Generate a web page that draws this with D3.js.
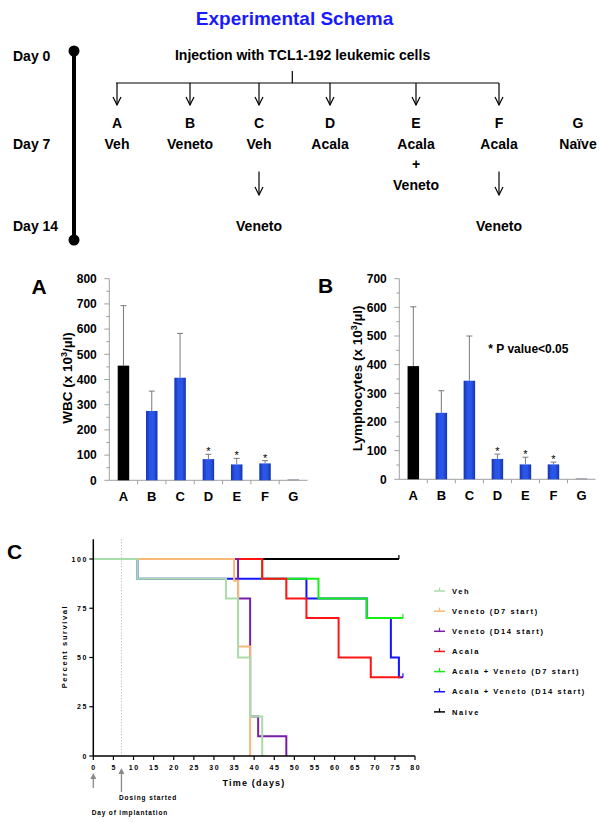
<!DOCTYPE html>
<html><head><meta charset="utf-8">
<script src="https://cdn.jsdelivr.net/npm/d3@7"></script>
<style>
html,body{margin:0;padding:0;background:#fff;}
svg{display:block;font-family:"Liberation Sans",Arial,sans-serif;}
</style></head>
<body><svg id="c" width="604" height="823"></svg>
<script>
// ---------- DATA ----------
const categories = ["A","B","C","D","E","F","G"];
const wbcMean = [455, 275, 407, 84, 63, 67, 4];
const wbcErrTop = [693, 354, 583, 103, 87, 78, 4];
const lymMean = [395, 232, 344, 71, 52, 52, 1];
const lymErrTop = [602, 309, 500, 88, 77, 60, 1];
const significant = [false,false,false,true,true,true,false];
const wbcTicks = [0,100,200,300,400,500,600,700,800];
const lymTicks = [0,100,200,300,400,500,600,700];

const schemaGroupNames = ["Veh","Veneto","Veh","Acala","Acala","Acala","Naïve"];
const schemaDay14 = ["","","Veneto","","","Veneto",""];
const schemaDays = ["Day 0","Day 7","Day 14"];

const survivalLabels = ["Veh","Veneto (D7 start)","Veneto (D14 start)","Acala","Acala + Veneto (D7 start)","Acala + Veneto (D14 start)","Naive"];
const survVeh = [[0,100],[11,90],[33,80],[36,50],[39,20],[42,0]];
const survVeneto7 = [[0,100],[35,88.9],[36,55.6],[39,0]];
const survVeneto14 = [[0,100],[36,80],[39,20],[41,10],[48,0]];
const survAcala = [[0,100],[42,90],[48,80],[53,70],[61,50],[69,40],[76.5,40]];
const survAV7 = [[0,100],[42,90],[56,80],[68,70],[77,70]];
const survAV14 = [[0,100],[11,90],[53,80],[68,70],[74,50],[76,40],[77,40]];
const survNaive = [[0,100],[76,100]];
const censoredEnd = [false,false,false,false,true,true,true];
const survColors = ["#a9dca9","#f8b878","#7a1ea8","#ff1414","#14f014","#1414ff","#000000"];
const xTicksC = d3.range(0,81,5);
const yTicksC = [0,25,50,75,100];

// ---------- SETUP ----------
const svg = d3.select("#c");
const defs = svg.append("defs");
const g1 = defs.append("linearGradient").attr("id","blueBar").attr("x1","0%").attr("x2","100%").attr("y1","0%").attr("y2","0%");
[["0%","#1533b0"],["35%","#2a56e8"],["65%","#2a56e8"],["100%","#1533b0"]].forEach(s=>g1.append("stop").attr("offset",s[0]).attr("stop-color",s[1]));

// ---------- SCHEMA ----------
svg.append("text").attr("x",294.6).attr("y",25).attr("text-anchor","middle")
  .attr("font-size",19).attr("font-weight","bold").attr("fill","#1a1aff").text("Experimental Schema");
const tl = svg.append("g");
tl.append("line").attr("x1",74).attr("x2",74).attr("y1",51).attr("y2",240).attr("stroke","#000").attr("stroke-width",4);
tl.append("circle").attr("cx",74).attr("cy",51).attr("r",5.5);
tl.append("circle").attr("cx",74).attr("cy",240).attr("r",5.5);
const dayY = [60.5,149,231];
schemaDays.forEach((d,i)=>tl.append("text").attr("x",13).attr("y",dayY[i]).attr("font-size",14).attr("font-weight","bold").text(d));
svg.append("text").attr("x",302.6).attr("y",59.5).attr("text-anchor","middle").attr("font-size",14).attr("font-weight","bold").text("Injection with TCL1-192 leukemic cells");
const gx = [117,190,259,330,416,499,578];
svg.append("line").attr("x1",292.3).attr("x2",292.3).attr("y1",71).attr("y2",83).attr("stroke","#000").attr("stroke-width",1.2);
svg.append("line").attr("x1",116).attr("x2",499).attr("y1",83).attr("y2",83).attr("stroke","#000").attr("stroke-width",1.2);
function downArrow(x,y1,y2){
  svg.append("line").attr("x1",x).attr("x2",x).attr("y1",y1).attr("y2",y2).attr("stroke","#000").attr("stroke-width",1.2);
  svg.append("path").attr("d",`M${x-4},${y2-8} L${x},${y2} L${x+4},${y2-8}`).attr("fill","none").attr("stroke","#000").attr("stroke-width",1.2);
}
categories.forEach((c,i)=>{
  if(i<6) downArrow(gx[i],83,105);
  svg.append("text").attr("x",gx[i]).attr("y",128).attr("text-anchor","middle").attr("font-size",14).attr("font-weight","bold").text(c);
  svg.append("text").attr("x",gx[i]).attr("y",148.5).attr("text-anchor","middle").attr("font-size",14).attr("font-weight","bold").text(schemaGroupNames[i]);
  if(schemaDay14[i]){
    downArrow(gx[i],171.5,195);
    svg.append("text").attr("x",gx[i]).attr("y",231).attr("text-anchor","middle").attr("font-size",14).attr("font-weight","bold").text(schemaDay14[i]);
  }
});
svg.append("text").attr("x",gx[4]).attr("y",169).attr("text-anchor","middle").attr("font-size",14).attr("font-weight","bold").text("+");
svg.append("text").attr("x",gx[4]).attr("y",190).attr("text-anchor","middle").attr("font-size",14).attr("font-weight","bold").text("Veneto");

// ---------- BAR PANELS ----------
function barPanel(o){
  const g = svg.append("g");
  const x = d3.scaleBand().domain(categories).range([o.x0,o.x1]);
  const y = d3.scaleLinear().domain([0,o.max]).range([o.y0,o.y1]);
  g.append("line").attr("x1",o.x0).attr("x2",o.x0).attr("y1",o.y0).attr("y2",o.y1).attr("stroke","#a0a0a0");
  g.append("line").attr("x1",o.x0).attr("x2",o.x1).attr("y1",o.y0).attr("y2",o.y0).attr("stroke","#a0a0a0");
  const minor = d3.range(50,o.max,100);
  minor.forEach(v=>g.append("line").attr("x1",o.x0-3).attr("x2",o.x0).attr("y1",y(v)).attr("y2",y(v)).attr("stroke","#a0a0a0"));
  o.ticks.forEach(v=>{
    g.append("line").attr("x1",o.x0-5).attr("x2",o.x0).attr("y1",y(v)).attr("y2",y(v)).attr("stroke","#a0a0a0");
    g.append("text").attr("x",o.x0-12.5).attr("y",y(v)+4.3).attr("text-anchor","end").attr("font-size",12).attr("font-weight","bold").text(v);
  });
  categories.forEach((c,i)=>{
    const bx = x(c)+x.bandwidth();
    if(i<categories.length-1) g.append("line").attr("x1",bx).attr("x2",bx).attr("y1",o.y0).attr("y2",o.y0+4).attr("stroke","#a0a0a0");
    g.append("text").attr("x",x(c)+x.bandwidth()/2).attr("y",o.y0+21).attr("text-anchor","middle").attr("font-size",13).attr("font-weight","bold").text(c);
  });
  const bw = 11.5;
  categories.forEach((c,i)=>{
    const cx = x(c)+x.bandwidth()/2;
    const et = y(o.err[i]);
    if(o.err[i]>o.mean[i]){
      g.append("line").attr("x1",cx).attr("x2",cx).attr("y1",y(o.mean[i])).attr("y2",et).attr("stroke","#7a7a7a").attr("stroke-width",1);
      g.append("line").attr("x1",cx-3).attr("x2",cx+3).attr("y1",et).attr("y2",et).attr("stroke","#7a7a7a").attr("stroke-width",1);
    }
    const h = Math.max(1, y(0)-y(o.mean[i]));
    g.append("rect").attr("x",cx-bw/2).attr("y",y(0)-h).attr("width",bw).attr("height",h)
      .attr("fill", i===0?"#000":(i===6?"#9090a0":"url(#blueBar)"));
    if(significant[i]) g.append("text").attr("x",cx).attr("y",et+1).attr("text-anchor","middle").attr("font-size",11).text("*");
  });
  g.append("text").attr("x",o.lx).attr("y",o.ly).attr("text-anchor","middle").attr("font-size",21).attr("font-weight","bold").text(o.letter);
  const yl = g.append("text").attr("transform",`translate(${o.ylx},${o.yly}) rotate(-90)`).attr("text-anchor","middle")
    .attr("font-size",13.5).attr("font-weight","bold");
  yl.append("tspan").text(o.label+" (x 10");
  yl.append("tspan").attr("font-size",9).attr("dy",-5).text("3");
  yl.append("tspan").attr("dy",5).text("/µl)");
}
barPanel({x0:109.3,x1:307.5,y0:480.3,y1:278.7,max:800,ticks:wbcTicks,mean:wbcMean,err:wbcErrTop,letter:"A",lx:39,ly:294,label:"WBC",ylx:71.5,yly:378});
barPanel({x0:399.3,x1:595.5,y0:479.3,y1:278.7,max:700,ticks:lymTicks,mean:lymMean,err:lymErrTop,letter:"B",lx:325.5,ly:292.5,label:"Lymphocytes",ylx:361.5,yly:378.3});
svg.append("text").attr("x",488.3).attr("y",352.5).attr("font-size",12).attr("font-weight","bold").text("* P value<0.05");

// ---------- SURVIVAL ----------
const xC = d3.scaleLinear().domain([0,80]).range([93.3,415]);
const yC = d3.scaleLinear().domain([0,100]).range([756,559]);
const gc = svg.append("g");
gc.append("text").attr("x",14.5).attr("y",558.5).attr("text-anchor","middle").attr("font-size",21).attr("font-weight","bold").text("C");
gc.append("line").attr("x1",xC(7)).attr("x2",xC(7)).attr("y1",yC(110)).attr("y2",yC(0)).attr("stroke","#9a9a9a").attr("stroke-width",0.8).attr("stroke-dasharray","1,2");
const allSurv = [survVeh,survVeneto7,survVeneto14,survAcala,survAV7,survAV14,survNaive];
const line = d3.line().x(d=>xC(d[0])).y(d=>yC(d[1])).curve(d3.curveStepAfter);
for(let i=allSurv.length-1;i>=0;i--){
  gc.append("path").attr("d",line(allSurv[i])).attr("fill","none").attr("stroke",survColors[i]).attr("stroke-width",2);
  if(censoredEnd[i]){
    const last = allSurv[i][allSurv[i].length-1];
    gc.append("line").attr("x1",xC(last[0])).attr("x2",xC(last[0])).attr("y1",yC(last[1])).attr("y2",yC(last[1])-4)
      .attr("stroke",survColors[i]).attr("stroke-width",1.2);
  }
}
gc.append("line").attr("x1",xC(0)).attr("x2",xC(0)).attr("y1",yC(110)).attr("y2",yC(0)).attr("stroke","#000").attr("stroke-width",1.5);
gc.append("line").attr("x1",xC(0)).attr("x2",xC(80)).attr("y1",yC(0)).attr("y2",yC(0)).attr("stroke","#000").attr("stroke-width",1.5);
yTicksC.forEach(v=>{
  gc.append("line").attr("x1",xC(0)-4).attr("x2",xC(0)).attr("y1",yC(v)).attr("y2",yC(v)).attr("stroke","#000").attr("stroke-width",1.2);
  gc.append("text").attr("x",xC(0)-5.5).attr("y",yC(v)+2.5).attr("text-anchor","end").attr("font-size",7).attr("font-weight","bold").attr("letter-spacing",1.5).text(v);
});
xTicksC.forEach(v=>{
  gc.append("line").attr("x1",xC(v)).attr("x2",xC(v)).attr("y1",yC(0)).attr("y2",yC(0)+4).attr("stroke","#000").attr("stroke-width",1.2);
  gc.append("text").attr("x",xC(v)+0.75).attr("y",769.5).attr("text-anchor","middle").attr("font-size",7).attr("font-weight","bold").attr("letter-spacing",1.5).text(v);
});
gc.append("text").attr("x",254).attr("y",785.5).attr("text-anchor","middle").attr("font-size",9).attr("font-weight","bold").attr("letter-spacing",1.2).text("Time (days)");
gc.append("text").attr("transform","translate(66.5,646.5) rotate(-90)").attr("text-anchor","middle").attr("font-size",7.5).attr("font-weight","bold").attr("letter-spacing",1.6).text("Percent survival");
// annotation arrows
function upArrow(x,yTip,yBottom){
  gc.append("line").attr("x1",x).attr("x2",x).attr("y1",yBottom).attr("y2",yTip+5).attr("stroke","#8a8a8a").attr("stroke-width",1.3);
  gc.append("path").attr("d",`M${x-3},${yTip+6} L${x},${yTip} L${x+3},${yTip+6} Z`).attr("fill","#8a8a8a");
}
upArrow(xC(0),773,788);
upArrow(xC(7),768,792);
gc.append("text").attr("x",119).attr("y",800).attr("font-size",6.5).attr("font-weight","bold").attr("letter-spacing",0.9).text("Dosing started");
gc.append("text").attr("x",91.7).attr("y",815).attr("font-size",6.5).attr("font-weight","bold").attr("letter-spacing",0.85).text("Day of implantation");
// legend
survivalLabels.forEach((lab,i)=>{
  const ly = 591 + i*20.15;
  gc.append("line").attr("x1",434).attr("x2",445).attr("y1",ly).attr("y2",ly).attr("stroke",survColors[i]).attr("stroke-width",1.5);
  gc.append("line").attr("x1",439.5).attr("x2",439.5).attr("y1",ly).attr("y2",ly-3.5).attr("stroke",survColors[i]).attr("stroke-width",1.2);
  gc.append("text").attr("x",452).attr("y",ly+2.7).attr("font-size",7.5).attr("font-weight","bold").attr("letter-spacing",1.6).text(lab);
});
</script></body></html>
